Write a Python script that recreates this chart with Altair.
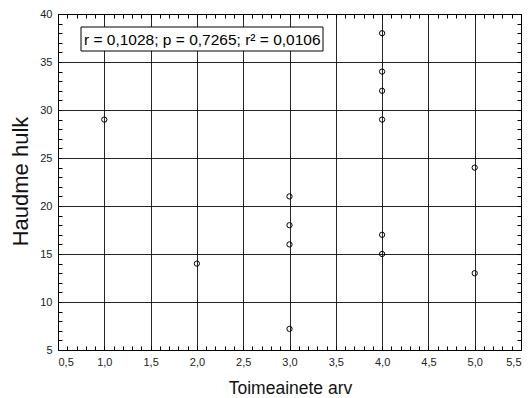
import altair as alt
import pandas as pd

# data
x_vals = [1, 2, 3, 3, 3, 3, 4, 4, 4, 4, 4, 4, 5, 5]
y_vals = [29, 14, 21, 18, 16, 7.2, 38, 34, 32, 29, 17, 15, 24, 13]

x_ticks = [0.5, 1.0, 1.5, 2.0, 2.5, 3.0, 3.5, 4.0, 4.5, 5.0, 5.5]
y_ticks = [5, 10, 15, 20, 25, 30, 35, 40]
x_minor = [round(0.5 + 0.1 * i, 1) for i in range(51)]
y_minor = list(range(5, 41))

stats_text = "r = 0,1028; p = 0,7265; r² = 0,0106"

FONT = "Liberation Sans"
W, H = 463, 336

df = pd.DataFrame({"x": x_vals, "y": y_vals})
ann = pd.DataFrame({"t": [stats_text]})

xscale = alt.Scale(domain=[0.5, 5.5], nice=False, zero=False)
yscale = alt.Scale(domain=[5, 40], nice=False, zero=False)

lab = "replace(format(datum.value, '.1f'), '.', ',')"

points = alt.Chart(df).mark_point(
    shape="circle", filled=False, color="black", size=28, strokeWidth=1, opacity=1
).encode(
    x=alt.X("x:Q", scale=xscale, axis=alt.Axis(
        orient="bottom", values=x_ticks, labelExpr=lab, grid=True, gridColor="black",
        gridWidth=1, gridOpacity=0.85, ticks=False, domain=False, labelFont=FONT, labelFontSize=11,
        labelColor="#222", labelPadding=6, title="Toimeainete arv", titleFont=FONT,
        titleFontSize=17.5, titleFontWeight="normal", titleColor="#111",
        titleX=232, titleY=43, titleBaseline="alphabetic")),
    y=alt.Y("y:Q", scale=yscale, axis=alt.Axis(
        orient="left", values=y_ticks, grid=True, gridColor="black", gridWidth=1,
        gridOpacity=0.85, ticks=False, domain=False, labelFont=FONT, labelFontSize=11,
        labelColor="#222", labelPadding=6, title="Haudme hulk", titleFont=FONT,
        titleFontSize=22, titleFontWeight="normal", titleColor="#111",
        titleX=-31, titleY=167, titleAngle=-90, titleBaseline="alphabetic")),
)

def minor_layer(xo, yo):
    return alt.Chart(df).mark_point(opacity=0).encode(
        x=alt.X("x:Q", scale=xscale, axis=alt.Axis(
            orient=xo, values=x_minor, labels=False, grid=False, domain=False,
            ticks=True, tickSize=4, tickColor="black", tickWidth=1, offset=-4, title=None)),
        y=alt.Y("y:Q", scale=yscale, axis=alt.Axis(
            orient=yo, values=y_minor, labels=False, grid=False, domain=False,
            ticks=True, tickSize=4, tickColor="black", tickWidth=1, offset=-4, title=None)),
    )

box = alt.Chart(ann).mark_rect(fill="white", stroke="black", strokeWidth=1).encode(
    x=alt.value(23), x2=alt.value(265), y=alt.value(13), y2=alt.value(37)
)
txt = alt.Chart(ann).mark_text(
    align="left", baseline="middle", font=FONT, fontSize=15.5, color="black"
).encode(x=alt.value(26), y=alt.value(25.5), text="t:N")

chart = alt.layer(
    points, minor_layer("bottom", "left"), minor_layer("top", "right"), box, txt
).resolve_axis(x="independent", y="independent").properties(
    width=W, height=H,
    autosize=alt.AutoSizeParams(type="none"),
    padding={"left": 58, "top": 14, "right": 7, "bottom": 48},
    background="white",
).configure_view(stroke="black", strokeWidth=1)

chart.save("out.html", embed_options={"renderer": "svg", "actions": False})
